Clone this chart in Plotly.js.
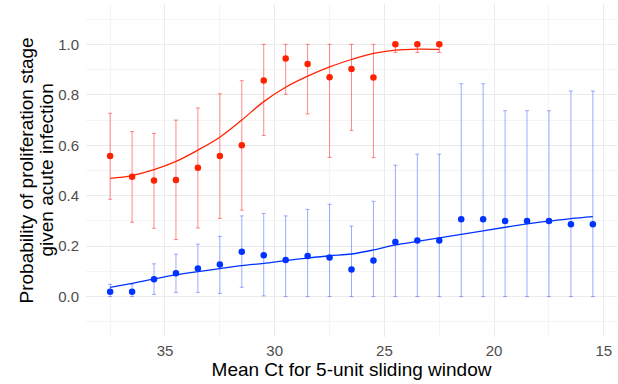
<!DOCTYPE html>
<html><head><meta charset="utf-8">
<script src="https://cdn.plot.ly/plotly-3.0.1.min.js"></script>
<style>html,body{margin:0;padding:0;background:#fff}#chart{width:618px;height:384px}</style>
</head><body><div id="chart"></div>
<script>
// Mean Ct (sliding window centres)
const ctRed = [37.5,36.5,35.5,34.5,33.5,32.5,31.5,30.5,29.5,28.5,27.5,26.5,25.5,24.5,23.5,22.5];
const redProb = [0.557,0.475,0.460,0.462,0.511,0.557,0.600,0.857,0.944,0.922,0.870,0.902,0.869,1.0,1.0,1.0];
const redUpper = [0.727,0.654,0.647,0.700,0.748,0.804,0.856,1.0,1.0,1.0,1.0,1.0,1.0,1.0,1.0,1.0];
const redLower = [0.386,0.295,0.271,0.226,0.272,0.310,0.343,0.639,0.802,0.724,0.552,0.659,0.551,0.968,0.968,0.968];
const redFit = [0.469,0.480,0.503,0.536,0.581,0.632,0.700,0.773,0.830,0.874,0.911,0.940,0.964,0.977,0.981,0.980];

const ctBlue = [37.5,36.5,35.5,34.5,33.5,32.5,31.5,30.5,29.5,28.5,27.5,26.5,25.5,24.5,23.5,22.5,21.5,20.5,19.5,18.5,17.5,16.5,15.5];
const blueProb = [0.019,0.019,0.069,0.093,0.112,0.127,0.178,0.164,0.145,0.161,0.155,0.108,0.143,0.217,0.223,0.223,0.307,0.307,0.300,0.300,0.300,0.287,0.287];
const blueUpper = [0.049,0.049,0.130,0.168,0.208,0.239,0.320,0.330,0.320,0.346,0.366,0.280,0.378,0.521,0.565,0.565,0.844,0.844,0.737,0.737,0.737,0.815,0.815];
const blueLower = [0.0,0.0,0.009,0.017,0.017,0.013,0.037,0.003,0.0,0.0,0.0,0.0,0.0,0.0,0.0,0.0,0.0,0.0,0.0,0.0,0.0,0.0,0.0];
const blueFit = [0.037,0.053,0.070,0.086,0.099,0.111,0.123,0.132,0.143,0.153,0.162,0.169,0.185,0.205,0.219,0.233,0.247,0.261,0.275,0.288,0.299,0.309,0.317];

const xTicks = [35,30,25,20,15];
const xTickText = ['35','30','25','20','15'];
const yTicks = [0,0.2,0.4,0.6,0.8,1.0];
const yTickText = ['0.0','0.2','0.4','0.6','0.8','1.0'];
const yTitleLines = ['Probability of proliferation stage', 'given acute infection'];

const RED = '#ff2200', BLUE = '#0033ff';

function errTrace(x, y, up, lo, col) {
  return {x: x, y: y, type: 'scatter', mode: 'markers', hoverinfo: 'skip',
    marker: {size: 0.1, color: 'rgba(0,0,0,0)'},
    error_y: {type: 'data', symmetric: false,
      array: y.map((v,i) => up[i]-v), arrayminus: y.map((v,i) => v-lo[i]),
      color: col, thickness: 1, width: 2}, showlegend: false};
}

const data = [
  errTrace(ctRed, redProb, redUpper, redLower, 'rgba(255,40,40,0.55)'),
  errTrace(ctBlue, blueProb, blueUpper, blueLower, 'rgba(40,70,255,0.45)'),
  {x: ctRed, y: redFit, type: 'scatter', mode: 'lines', line: {color: RED, width: 1.3, shape: 'spline'}, showlegend: false},
  {x: ctBlue, y: blueFit, type: 'scatter', mode: 'lines', line: {color: BLUE, width: 1.3, shape: 'spline'}, showlegend: false},
  {x: ctRed, y: redProb, type: 'scatter', mode: 'markers', marker: {size: 6.5, color: RED}, showlegend: false},
  {x: ctBlue, y: blueProb, type: 'scatter', mode: 'markers', marker: {size: 6.5, color: BLUE}, showlegend: false}
];

const plotW = 618 - 86 - 1;
const layout = {
  width: 618, height: 384,
  margin: {l: 86, r: 1, t: 4, b: 47},
  paper_bgcolor: '#fff', plot_bgcolor: '#fff',
  font: {family: 'Liberation Sans, Arial, sans-serif'},
  xaxis: {range: [38.6, 14.4], tickvals: xTicks, ticktext: xTickText,
    showgrid: true, gridcolor: '#ebebeb', gridwidth: 1, zeroline: false, showline: false, ticks: '',
    ticklabelstandoff: 3,
    tickfont: {size: 15, color: '#4d4d4d'},
    minor: {tickvals: [37.5,32.5,27.5,22.5,17.5], showgrid: true, gridcolor: '#f4f4f4', gridwidth: 1},
    title: {text: 'Mean Ct for 5-unit sliding window', font: {size: 19, color: '#000'}, standoff: 2}},
  yaxis: {range: [-0.16, 1.16], tickvals: yTicks, ticktext: yTickText,
    showgrid: true, gridcolor: '#ebebeb', gridwidth: 1, zeroline: false, showline: false, ticks: '',
    ticklabelstandoff: 6,
    tickfont: {size: 15, color: '#4d4d4d'},
    minor: {tickvals: [-0.1,0.1,0.3,0.5,0.7,0.9,1.1], showgrid: true, gridcolor: '#f4f4f4', gridwidth: 1}},
  annotations: [
    {text: yTitleLines[0], textangle: -90, xref: 'paper', yref: 'paper', x: (26 - 86) / plotW, y: 0.5,
     xanchor: 'center', yanchor: 'middle', showarrow: false, font: {size: 19, color: '#000'}},
    {text: yTitleLines[1], textangle: -90, xref: 'paper', yref: 'paper', x: (46 - 86) / plotW, y: 0.5,
     xanchor: 'center', yanchor: 'middle', showarrow: false, font: {size: 19, color: '#000'}}
  ]
};

Plotly.newPlot('chart', data, layout, {displayModeBar: false, staticPlot: true});
</script></body></html>
